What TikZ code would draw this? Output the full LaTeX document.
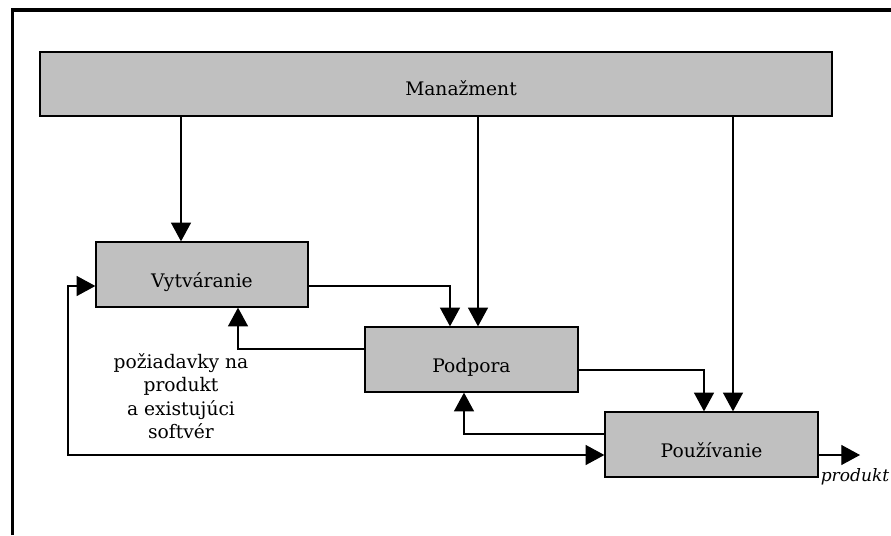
\documentclass[tikz,border=0pt]{standalone}
\usepackage{fontspec}
\setmainfont{DejaVu Serif}
\usetikzlibrary{arrows.meta}
\tikzset{
  box/.style={draw=black, line width=1pt, fill=boxgray, inner sep=0pt, text height=19pt, text depth=0pt, font=\fontsize{14}{16}\selectfont},
  conn/.style={line width=0.8pt, -{Triangle[length=14pt,width=15pt]}},
  conn2/.style={line width=0.8pt, {Triangle[length=14pt,width=15pt]}-{Triangle[length=14pt,width=15pt]}},
}
\definecolor{boxgray}{RGB}{192,192,192}
\begin{document}
\begin{tikzpicture}[x=0.75pt,y=-0.75pt]
\useasboundingbox (0,0) rectangle (891,535);
% frame
\draw[line width=2.7pt] (12.5,535) -- (12.5,10) -- (891,10);
% boxes
\node[box, minimum width=594pt, minimum height=48pt, text height=17.5pt] (man) at (436,84) {\hspace*{37.5pt}Manažment};
\node[box, minimum width=159pt, minimum height=48.75pt] (vyt) at (202,274.5) {Vytváranie};
\node[box, minimum width=159.75pt, minimum height=48.75pt] (pod) at (471.5,359.5) {Podpora};
\node[box, minimum width=159.75pt, minimum height=48.75pt] (pou) at (711.5,444.5) {Používanie};
% helper coordinates
\coordinate (x68) at (68,0);
\coordinate (x181) at (181,0);
\coordinate (x238) at (238,0);
\coordinate (x450) at (450,0);
\coordinate (x464) at (464,0);
\coordinate (x478) at (478,0);
\coordinate (x704) at (704,0);
\coordinate (x733) at (733,0);
\coordinate (y286) at (0,286);
\coordinate (y349) at (0,349);
\coordinate (y370) at (0,370);
\coordinate (y434) at (0,434);
\coordinate (y455) at (0,455);
\coordinate (out) at (860,455);
% connectors
\draw[conn] (man.south -| x181) -- (vyt.north -| x181);
\draw[conn] (man.south -| x478) -- (pod.north -| x478);
\draw[conn] (man.south -| x733) -- (pou.north -| x733);
\draw[conn] (vyt.east |- y286) -| (pod.north -| x450);
\draw[conn] (pod.west |- y349) -| (vyt.south -| x238);
\draw[conn] (pod.east |- y370) -| (pou.north -| x704);
\draw[conn] (pou.west |- y434) -| (pod.south -| x464);
\draw[conn2] (vyt.west |- y286) -- (x68 |- y286) -- (x68 |- y455) -- (pou.west |- y455);
\draw[conn] (pou.east |- y455) -- (out);
% labels
\node[align=center, font=\fontsize{14}{17.5}\selectfont, inner sep=0pt] (req) at (181,396) {požiadavky na\\produkt\\a existujúci\\softvér};
\node[font=\fontsize{12.8}{15}\selectfont\itshape, inner sep=0pt] (prod) at (855,477) {produkt};
\end{tikzpicture}
\end{document}
